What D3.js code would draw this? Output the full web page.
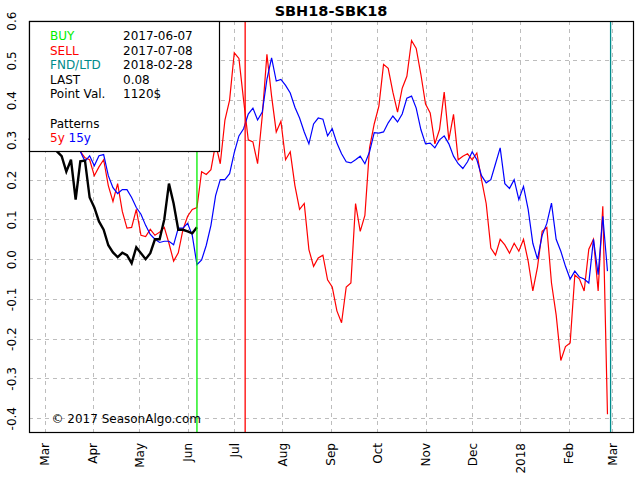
<!DOCTYPE html>
<html>
<head>
<meta charset="utf-8">
<script src="https://cdn.jsdelivr.net/npm/d3@7"></script>
<style>
body { margin: 0; background: #fff; }
text { font-family: "DejaVu Sans", sans-serif; }
</style>
</head>
<body>
<div id="chart"></div>
<script>

// pattern dates (every 3 days)
var dates = [
  "2017-02-19","2017-02-22","2017-02-25","2017-02-28",
  "2017-03-03","2017-03-06","2017-03-09","2017-03-12","2017-03-15","2017-03-18","2017-03-21","2017-03-24","2017-03-27","2017-03-30",
  "2017-04-02","2017-04-05","2017-04-08","2017-04-11","2017-04-14","2017-04-17","2017-04-20","2017-04-23","2017-04-26","2017-04-29",
  "2017-05-02","2017-05-05","2017-05-08","2017-05-11","2017-05-14","2017-05-17","2017-05-20","2017-05-23","2017-05-26","2017-05-29",
  "2017-06-01","2017-06-04","2017-06-07","2017-06-10","2017-06-13","2017-06-16","2017-06-19","2017-06-22","2017-06-25","2017-06-28",
  "2017-07-01","2017-07-04","2017-07-07","2017-07-10","2017-07-13","2017-07-16","2017-07-19","2017-07-22","2017-07-25","2017-07-28","2017-07-31",
  "2017-08-03","2017-08-06","2017-08-09","2017-08-12","2017-08-15","2017-08-18","2017-08-21","2017-08-24","2017-08-27","2017-08-30",
  "2017-09-02","2017-09-05","2017-09-08","2017-09-11","2017-09-14","2017-09-17","2017-09-20","2017-09-23","2017-09-26","2017-09-29",
  "2017-10-02","2017-10-05","2017-10-08","2017-10-11","2017-10-14","2017-10-17","2017-10-20","2017-10-23","2017-10-26","2017-10-29",
  "2017-11-01","2017-11-04","2017-11-07","2017-11-10","2017-11-13","2017-11-16","2017-11-19","2017-11-22","2017-11-25","2017-11-28",
  "2017-12-01","2017-12-04","2017-12-07","2017-12-10","2017-12-13","2017-12-16","2017-12-19","2017-12-22","2017-12-25","2017-12-28","2017-12-31",
  "2018-01-03","2018-01-06","2018-01-09","2018-01-12","2018-01-15","2018-01-18","2018-01-21","2018-01-24","2018-01-27","2018-01-30",
  "2018-02-02","2018-02-05","2018-02-08","2018-02-11","2018-02-14","2018-02-17","2018-02-20","2018-02-23","2018-02-26"
];

var pattern5y = [
  0.30, 0.31, 0.30, 0.32, 0.30, 0.29, 0.30, 0.29, 0.28, 0.29, 0.28,
  0.271, 0.255, 0.25, 0.21, 0.232, 0.25, 0.185, 0.145, 0.19, 0.12,
  0.078, 0.08, 0.125, 0.06, 0.057, 0.075, 0.06, 0.068, 0.08, 0.04,
  -0.005, 0.016, 0.074, 0.108, 0.125, 0.13, 0.22, 0.213, 0.225, 0.29,
  0.24, 0.35, 0.40, 0.519, 0.505, 0.40, 0.30, 0.295, 0.24, 0.36,
  0.515, 0.41, 0.32, 0.347, 0.25, 0.27, 0.185, 0.125, 0.14, 0.024,
  -0.018, 0.003, 0.01, -0.052, -0.07, -0.13, -0.16, -0.07, -0.06, 0.14,
  0.07, 0.11, 0.28, 0.34, 0.385, 0.49, 0.48, 0.42, 0.37, 0.43,
  0.46, 0.55, 0.53, 0.465, 0.39, 0.368, 0.29, 0.326, 0.42, 0.30,
  0.364, 0.25, 0.259, 0.265, 0.25, 0.267, 0.20, 0.14, 0.028, 0.01,
  0.05, 0.036, 0.015, 0.04, 0.02, 0.05, -0.005, -0.08, -0.02, 0.07,
  0.08, -0.06, -0.14, -0.255, -0.22, -0.211, -0.04, -0.05, -0.08, 0.025,
  0.05, -0.08, 0.133, -0.39
];

var pattern15y = [
  0.30, 0.31, 0.30, 0.31, 0.30, 0.29, 0.30, 0.29, 0.29, 0.28, 0.28,
  0.271, 0.246, 0.26, 0.235, 0.26, 0.263, 0.21, 0.18, 0.165, 0.175,
  0.175, 0.155, 0.13, 0.113, 0.085, 0.062, 0.05, 0.042, 0.045, 0.045,
  0.036, 0.078, 0.078, 0.09, 0.06, -0.014, -0.002, 0.035, 0.085, 0.16,
  0.2, 0.2, 0.215, 0.268, 0.31, 0.328, 0.365, 0.38, 0.35, 0.37,
  0.452, 0.506, 0.448, 0.452, 0.437, 0.418, 0.382, 0.355, 0.32, 0.29,
  0.34, 0.355, 0.352, 0.31, 0.328, 0.292, 0.265, 0.245, 0.242, 0.25,
  0.259, 0.24, 0.27, 0.318, 0.317, 0.32, 0.343, 0.36, 0.345, 0.365,
  0.405, 0.41, 0.38, 0.326, 0.29, 0.292, 0.28, 0.30, 0.31, 0.29,
  0.259, 0.24, 0.228, 0.245, 0.27, 0.25, 0.21, 0.192, 0.2, 0.24,
  0.28, 0.19, 0.178, 0.2, 0.15, 0.183, 0.125, 0.04, 0.0, 0.06,
  0.09, 0.141, 0.05, 0.02, -0.018, -0.05, -0.03, -0.045, -0.05, -0.06,
  0.05, -0.039, 0.108, -0.03
];

// actual spread, same dates up to the buy date
var current = [
  0.30, 0.31, 0.30, 0.29, 0.30, 0.29, 0.271, 0.259,
  0.22, 0.25, 0.15, 0.246, 0.248, 0.155, 0.13, 0.095,
  0.074, 0.035, 0.017, 0.005, 0.016, 0.01, -0.01, 0.03,
  0.015, 0.0, 0.015, 0.05, 0.05, 0.1, 0.19, 0.14,
  0.074, 0.074, 0.07, 0.065, 0.08
];

var monthTicks = ["2017-03-01","2017-04-01","2017-05-01","2017-06-01","2017-07-01","2017-08-01","2017-09-01",
  "2017-10-01","2017-11-01","2017-12-01","2018-01-01","2018-02-01","2018-03-01"];
var monthLabels = ["Mar","Apr","May","Jun","Jul","Aug","Sep","Oct","Nov","Dec","2018","Feb","Mar"];
var yTicks = [-0.4, -0.3, -0.2, -0.1, 0.0, 0.1, 0.2, 0.3, 0.4, 0.5, 0.6];

var buyDate = "2017-06-07";
var sellDate = "2017-07-08";
var fndDate = "2018-02-28";

var legendLabels = ["BUY", "SELL", "FND/LTD", "LAST", "Point Val."];
var legendValues = ["2017-06-07", "2017-07-08", "2018-02-28", "0.08", "1120$"];
var legendColors = ["#00ee00", "#ff0000", "#008b8b", "#000000", "#000000"];

var chart_width = 640, chart_height = 480;
var plot_left = 29, plot_right = 633, plot_top = 21, plot_bottom = 432;

var parse = d3.utcParse("%Y-%m-%d");

var svg = d3.select('#chart').append('svg')
  .attr('width', chart_width)
  .attr('height', chart_height)
  .style('background', '#fff');

var x = d3.scaleUtc()
  .domain([parse("2017-02-19"), new Date(Date.UTC(2018, 2, 14, 10))])
  .range([plot_left, plot_right]);

var y = d3.scaleLinear()
  .domain([-0.4347, 0.599])
  .range([plot_bottom, plot_top]);

// grid
var grid = svg.append('g')
  .style('stroke', '#bdbdbd')
  .style('stroke-width', 1)
  .style('stroke-dasharray', '4,4');

grid.selectAll('.hgrid')
  .data(yTicks.filter(function(d){ return d < 0.55; }))
  .enter().append('line')
  .attr('x1', plot_left).attr('x2', plot_right)
  .attr('y1', function(d){ return Math.round(y(d)) + 0.5; })
  .attr('y2', function(d){ return Math.round(y(d)) + 0.5; });

grid.selectAll('.vgrid')
  .data(monthTicks)
  .enter().append('line')
  .attr('y1', plot_top).attr('y2', plot_bottom)
  .attr('x1', function(d){ return Math.round(x(parse(d))) + 0.5; })
  .attr('x2', function(d){ return Math.round(x(parse(d))) + 0.5; });

// axes
var xAxis = d3.axisBottom(x)
  .tickValues(monthTicks.map(parse))
  .tickSize(0)
  .tickFormat(function(d, i){ return monthLabels[i]; });

svg.append('g')
  .attr('transform', 'translate(0,' + plot_bottom + ')')
  .call(xAxis)
  .call(function(g){ g.select('.domain').remove(); })
  .selectAll('text')
  .attr('y', 0)
  .attr('x', -11)
  .attr('dy', '0.35em')
  .attr('transform', 'rotate(-90)')
  .style('text-anchor', 'end')
  .style('font-size', '12px')
  .style('font-family', '"DejaVu Sans", sans-serif')
  .attr('fill', '#000');

var yAxis = d3.axisLeft(y)
  .tickValues(yTicks)
  .tickSize(0)
  .tickFormat(function(d){ return d.toFixed(1); });

svg.append('g')
  .attr('transform', 'translate(' + plot_left + ',0)')
  .call(yAxis)
  .call(function(g){ g.select('.domain').remove(); })
  .selectAll('text')
  .attr('x', 0)
  .attr('y', -13.5)
  .attr('dy', 0)
  .attr('transform', 'rotate(-90)')
  .style('text-anchor', 'middle')
  .style('font-size', '12px')
  .style('font-family', '"DejaVu Sans", sans-serif')
  .attr('fill', '#000');

// series
var line = d3.line()
  .x(function(d){ return x(d.date); })
  .y(function(d){ return y(d.value); });

function toPoints(values){
  return values.map(function(v, i){ return {date: parse(dates[i]), value: v}; });
}

var plot = svg.append('g');

plot.append('path')
  .datum(toPoints(pattern5y))
  .attr('d', line)
  .style('fill', 'none')
  .style('stroke', '#ff0000')
  .style('stroke-width', 1.2);

plot.append('path')
  .datum(toPoints(pattern15y))
  .attr('d', line)
  .style('fill', 'none')
  .style('stroke', '#0000ff')
  .style('stroke-width', 1.2);

plot.append('path')
  .datum(toPoints(current))
  .attr('d', line)
  .style('fill', 'none')
  .style('stroke', '#000')
  .style('stroke-width', 2.4);

// event lines
var events = [[buyDate, '#00ee00'], [sellDate, '#ff0000'], [fndDate, '#008b8b']];
plot.selectAll('.event')
  .data(events)
  .enter().append('line')
  .attr('x1', function(d){ return x(parse(d[0])); })
  .attr('x2', function(d){ return x(parse(d[0])); })
  .attr('y1', plot_top).attr('y2', plot_bottom)
  .style('stroke', function(d){ return d[1]; })
  .style('stroke-width', 1.3);

// plot border
svg.append('rect')
  .attr('x', plot_left + 0.5).attr('y', plot_top + 0.5)
  .attr('width', plot_right - plot_left).attr('height', plot_bottom - plot_top)
  .style('fill', 'none')
  .style('stroke', '#000')
  .style('stroke-width', 1.2);

// title
svg.append('text')
  .attr('x', (plot_left + plot_right) / 2)
  .attr('y', 16)
  .attr('text-anchor', 'middle')
  .style('font-size', '14.5px')
  .style('font-weight', 'bold')
  .text('SBH18-SBK18');

// legend box
var legend = svg.append('g');
legend.append('rect')
  .attr('x', plot_left + 0.5).attr('y', plot_top + 0.5)
  .attr('width', 190).attr('height', 130)
  .style('fill', '#fff')
  .style('stroke', '#000')
  .style('stroke-width', 1.2);

legend.selectAll('.lab')
  .data(legendLabels)
  .enter().append('text')
  .attr('x', 50)
  .attr('y', function(d, i){ return 40 + i * 14.5; })
  .style('font-size', '12px')
  .attr('fill', function(d, i){ return legendColors[i]; })
  .text(function(d){ return d; });

legend.selectAll('.val')
  .data(legendValues)
  .enter().append('text')
  .attr('x', 123)
  .attr('y', function(d, i){ return 40 + i * 14.5; })
  .style('font-size', '12px')
  .attr('fill', '#000')
  .text(function(d){ return d; });

legend.append('text')
  .attr('x', 50).attr('y', 127.5)
  .style('font-size', '12px')
  .text('Patterns');

var pat = legend.append('text')
  .attr('x', 50).attr('y', 141.5)
  .style('font-size', '12px');
pat.append('tspan').attr('fill', '#ff0000').text('5y ');
pat.append('tspan').attr('fill', '#0000ff').text('15y');

// copyright
svg.append('text')
  .attr('x', 51.5).attr('y', 422.5)
  .style('font-size', '12px')
  .text('\u00a9 2017 SeasonAlgo.com');

</script>
</body>
</html>
